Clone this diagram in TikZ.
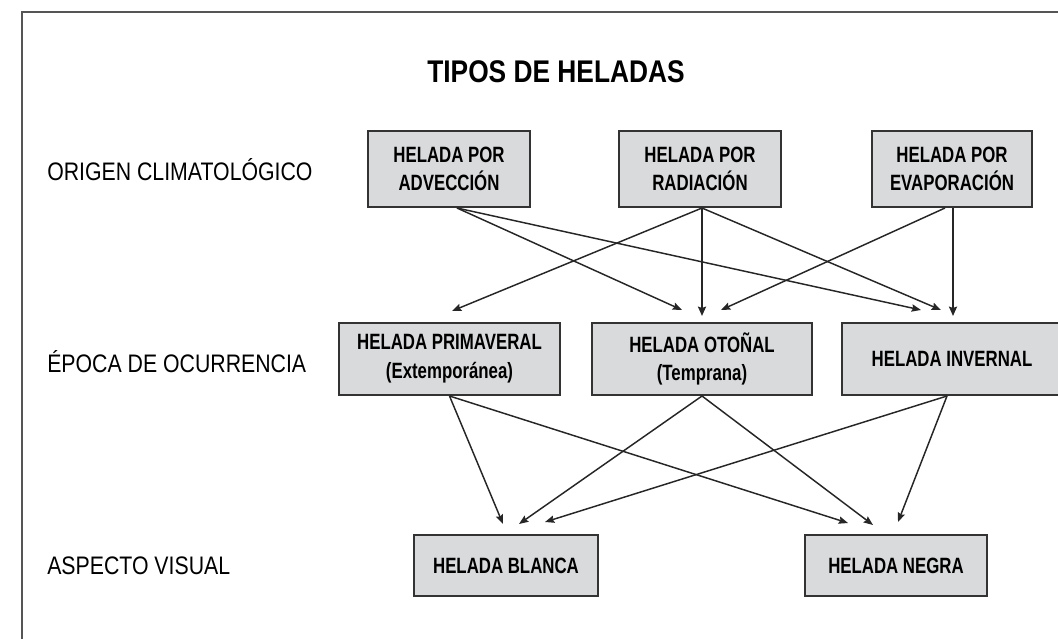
\documentclass[tikz,border=0pt]{standalone}
\usepackage{fontspec}
\setmainfont{Liberation Sans}[FakeStretch=0.84]
\newfontfamily\boxfont{Liberation Sans}[FakeStretch=0.76]
\usetikzlibrary{arrows.meta,calc}
\definecolor{boxfill}{HTML}{D9DADC}
\definecolor{boxline}{HTML}{333333}
\definecolor{frameline}{HTML}{555555}
\begin{document}
\begin{tikzpicture}[x=0.75pt,y=-0.75pt,
  hbox/.style={draw=boxline,line width=1.5pt,fill=boxfill,inner sep=0pt,align=center,
    font=\boxfont\fontsize{16.6}{21.5}\selectfont\bfseries},
  rowlabel/.style={anchor=west,inner sep=0pt,font=\fontsize{19}{22}\selectfont},
  conn/.style={line width=1.1pt,draw=black!85,-{Stealth[length=7pt,width=5.5pt,inset=1pt]}},
  thickconn/.style={line width=1.8pt,draw=black!85,-{Stealth[length=7pt,width=6pt,inset=1pt]}}]
\useasboundingbox (0,0) rectangle (1058,639);
\begin{scope}
\clip (0,0) rectangle (1058,639);
% frame
\draw[frameline,line width=1.5pt] (1070,12) -- (22,12) -- (22,650);
% title and row labels
\node[inner sep=0pt,font=\fontsize{23.5}{26}\selectfont\bfseries] (title) at (556,72) {TIPOS DE HELADAS};
\node[rowlabel] (l1) at (47,170) {ORIGEN CLIMATOLÓGICO};
\node[rowlabel] (l2) at (47,362) {ÉPOCA DE OCURRENCIA};
\node[rowlabel] (l3) at (47,566) {ASPECTO VISUAL};
% row 1
\node[hbox,minimum width=121.5pt,minimum height=57pt] (adv) at (449,169) {HELADA POR\\ADVECCIÓN};
\node[hbox,minimum width=121.5pt,minimum height=57pt] (rad) at (700,169) {HELADA POR\\RADIACIÓN};
\node[hbox,minimum width=120pt,minimum height=57pt] (eva) at (952,169) {HELADA POR\\EVAPORACIÓN};
% row 2
\node[hbox,minimum width=165.75pt,minimum height=54pt] (pri) at (449.5,359) {HELADA PRIMAVERAL\\(Extemporánea)};
\node[hbox,minimum width=165pt,minimum height=54pt] (oto) at (702,359) {HELADA OTOÑAL\\(Temprana)};
\node[hbox,minimum width=165pt,minimum height=54pt] (inv) at (952,359) {HELADA INVERNAL};
% row 3
\node[hbox,minimum width=138pt,minimum height=45.75pt] (bla) at (506,565.5) {HELADA BLANCA};
\node[hbox,minimum width=136.5pt,minimum height=45.75pt] (neg) at (896,565.5) {HELADA NEGRA};
% row 1 -> row 2
\draw[conn] ($(adv.south)+(8,0)$) -- ($(oto.north)+(-20,-12)$);
\draw[conn] ($(adv.south)+(8,0)$) -- ($(inv.north)+(-31,-12)$);
\draw[conn] ($(rad.south)+(2,0)$) -- ($(pri.north)+(2.5,-11)$);
\draw[thickconn] ($(rad.south)+(2,0)$) -- ($(oto.north)+(0,-6)$);
\draw[conn] ($(rad.south)+(2,0)$) -- ($(inv.north)+(-11,-12)$);
\draw[conn] ($(eva.south)+(-7,0)$) -- ($(oto.north)+(19,-12)$);
\draw[thickconn] ($(eva.south)+(1,0)$) -- ($(inv.north)+(1,-6)$);
% row 2 -> row 3
\draw[conn] ($(pri.south)+(0,0)$) -- ($(bla.north)+(-3,-10)$);
\draw[conn] ($(pri.south)+(0,0)$) -- ($(neg.north)+(-48,-11)$);
\draw[conn] ($(oto.south)+(0,0)$) -- ($(bla.north)+(13,-10)$);
\draw[conn] ($(oto.south)+(0,0)$) -- ($(neg.north)+(-23,-9)$);
\draw[conn] ($(inv.south)+(-5,0)$) -- ($(bla.north)+(39,-12)$);
\draw[conn] ($(inv.south)+(-5,0)$) -- ($(neg.north)+(2,-12)$);
\end{scope}
\end{tikzpicture}
\end{document}
